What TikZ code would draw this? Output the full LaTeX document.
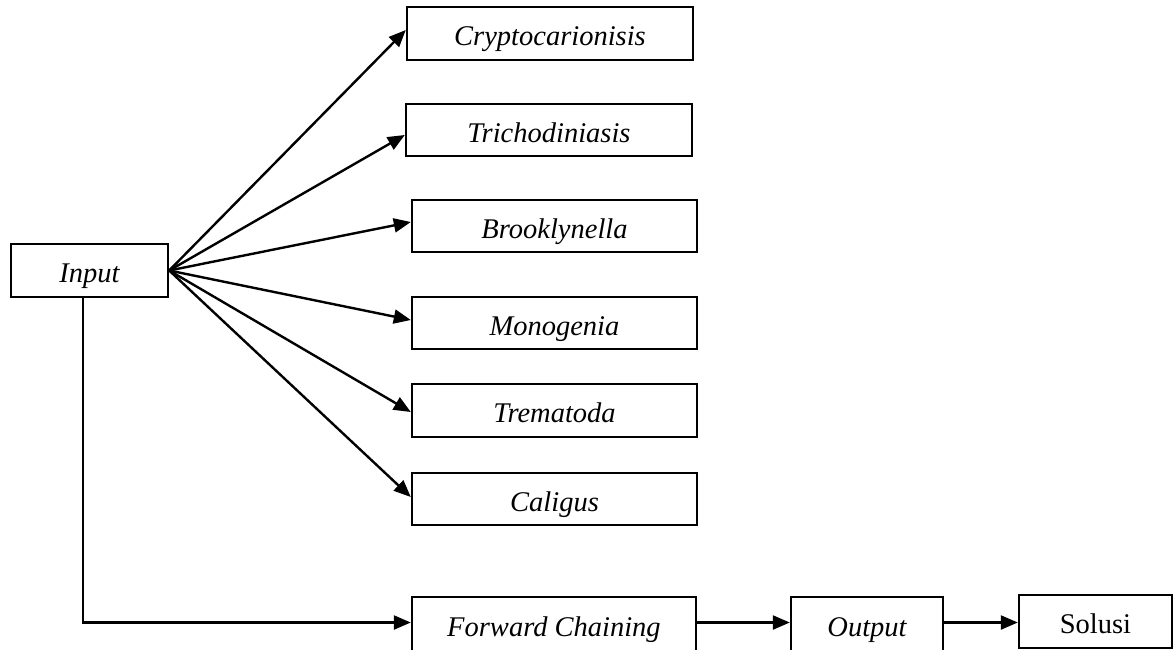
\documentclass[tikz,border=0pt]{standalone}
\usepackage{fontspec}
\setmainfont{Liberation Serif}
\usetikzlibrary{arrows.meta}
\begin{document}
\begin{tikzpicture}[x=1pt,y=-1pt,
  box/.style={draw,line width=2.4pt,inner sep=0pt,text height=24pt,text depth=0pt,font=\fontsize{28.5}{30}\selectfont\itshape},
  conn/.style={line width=2.4pt,-{Triangle[length=17pt,width=14pt]}}]
\useasboundingbox (0,0) rectangle (1173,649);
\node[box,minimum width=157pt,minimum height=53pt] (input) at (89.5,270.5) {Input};
\node[box,minimum width=286pt,minimum height=53pt] (crypto) at (550,33.5) {Cryptocarionisis};
\node[box,minimum width=286pt,minimum height=52pt] (tricho) at (549,130) {Trichodiniasis};
\node[box,minimum width=285pt,minimum height=52pt] (brook) at (554.5,226) {Brooklynella};
\node[box,minimum width=285pt,minimum height=52pt] (mono) at (554.5,323) {Monogenia};
\node[box,minimum width=285pt,minimum height=53pt] (trema) at (554.5,410.5) {Trematoda};
\node[box,minimum width=285pt,minimum height=52pt] (cali) at (554.5,499) {Caligus};
\node[box,minimum width=284pt,minimum height=54pt] (fc) at (554,624) {Forward Chaining};
\node[box,minimum width=152pt,minimum height=54pt] (out) at (867,624) {Output};
\node[box,minimum width=153pt,minimum height=53pt,font=\fontsize{28.5}{30}\selectfont] (sol) at (1095.5,621.5) {Solusi};
\draw[conn] (input.east) -- ([yshift=3.5]crypto.west);
\draw[conn] (input.east) -- ([yshift=-5]tricho.west);
\draw[conn] (input.east) -- ([yshift=4]brook.west);
\draw[conn] (input.east) -- ([yshift=3]mono.west);
\draw[conn] (input.east) -- ([yshift=-1.5]trema.west);
\draw[conn] (input.east) -- ([yshift=2]cali.west);
\draw[conn] ([xshift=-6.5pt]input.south) |- ([yshift=1.5]fc.west);
\draw[conn] ([yshift=1.5]fc.east) -- ([yshift=1.5]out.west);
\draw[conn] ([yshift=1.5]out.east) -- ([yshift=1.5]out.east -| sol.west);
\end{tikzpicture}
\end{document}
